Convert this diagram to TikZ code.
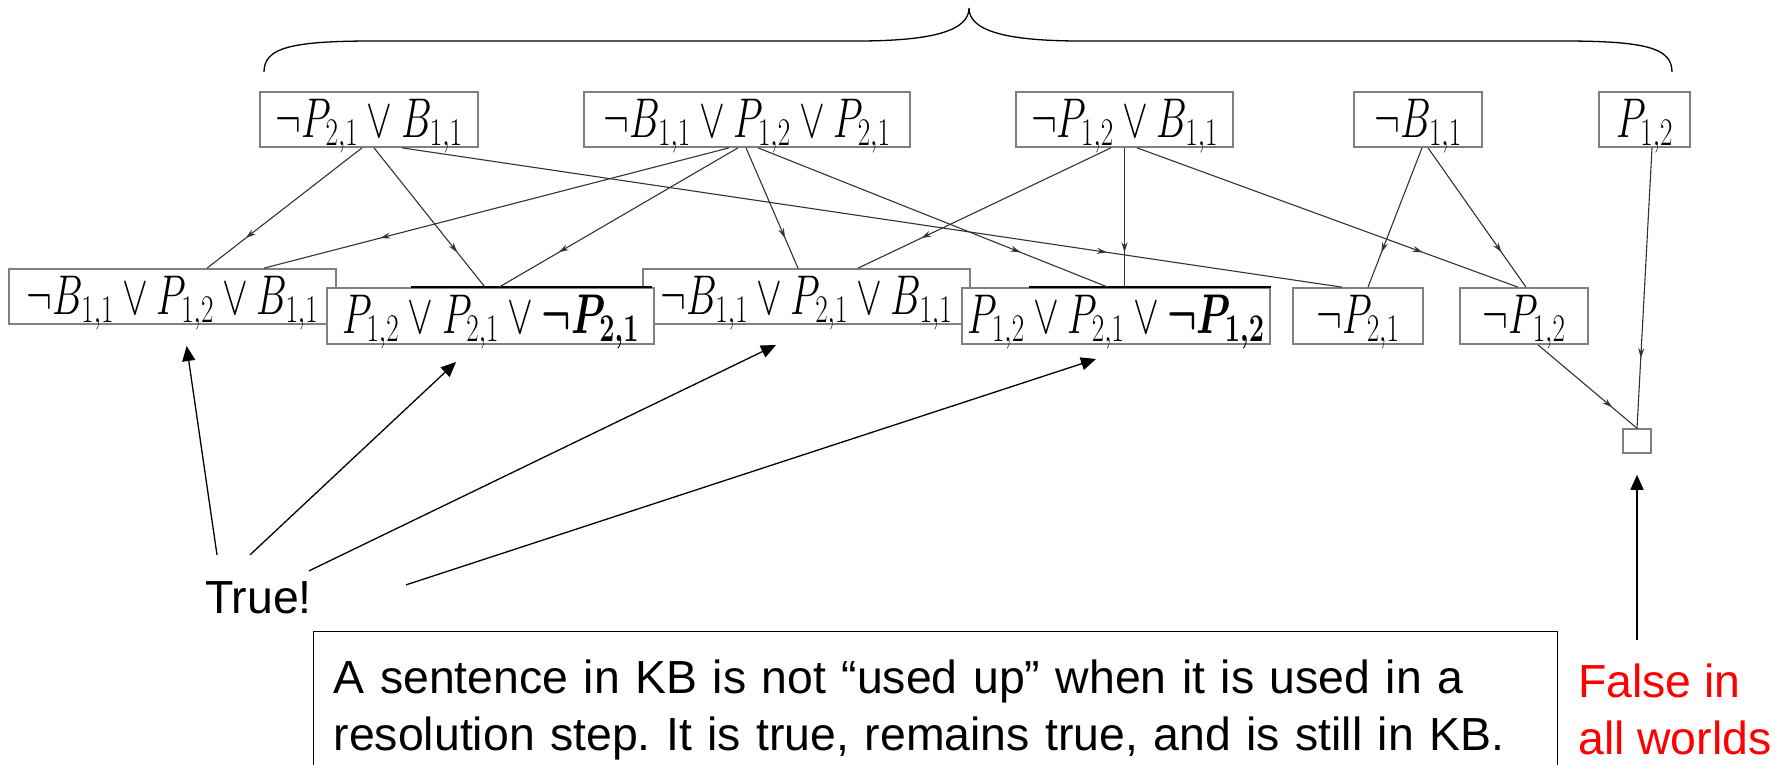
\RequirePackage{fix-cm}
\documentclass[tikz,border=0pt]{standalone}
\usepackage[no-math]{fontspec}
\usepackage{amsmath, graphicx}
\usepackage[dvipsnames]{xcolor}
\usetikzlibrary{positioning, arrows.meta, decorations.markings}
\newfontfamily\arialfont{Liberation Sans}
\newcommand\notefont{\arialfont\frenchspacing\fontsize{46.4pt}{57pt}\selectfont}
\newcommand\clausefont{\fontsize{56pt}{56pt}\selectfont}
\newcommand\clause[1]{\scalebox{0.69}[1]{$#1$}}
\tikzstyle{clausebox} = [draw=gray, line width=1.7pt, fill=white, inner sep=0pt, minimum height=55pt, text height=45pt, text depth=10pt, font=\clausefont]
\tikzstyle{emptybox} = [draw=gray, line width=1.5pt, fill=white, inner sep=0pt, minimum width=28pt, minimum height=24pt]
\tikzstyle{topbar} = [line width=2.4pt, black]
\tikzstyle{callout} = [-{Triangle[length=15pt,width=13pt]}, line width=1.3pt]
\tikzstyle{resarrow} = [
line width=1.1pt,
draw=black!80,
decoration={
	markings,
	mark=at position 0.75 with {\arrow{Stealth[length=10pt,width=6pt]}}
},
postaction={decorate}
]

\begin{document}
\begin{tikzpicture}[x=1pt, y=-1pt]
		\useasboundingbox (0,0) rectangle (1785,764);
		\clip (0,0) rectangle (1785,764);
		
		% brace over the KB
		\draw[line width=1.3pt] (264,72) .. controls (264,48) and (290,41) .. (373,41) -- (857,41)
			.. controls (935,41) and (969,30) .. (969,8)
			.. controls (969,30) and (1003,41) .. (1081,41) -- (1563,41)
			.. controls (1646,41) and (1672,48) .. (1672,72);
		
		% KB clauses
		\node[clausebox, minimum width=218pt] (b1) at (369,119.5) {\clause{\neg P_{2,1}\vee B_{1,1}}};
		\node[clausebox, minimum width=326pt] (b2) at (747,119.5) {\clause{\neg B_{1,1}\vee P_{1,2}\vee P_{2,1}}};
		\node[clausebox, minimum width=217pt] (b3) at (1124.5,119.5) {\clause{\neg P_{1,2}\vee B_{1,1}}};
		\node[clausebox, minimum width=128pt] (b4) at (1418,119.5) {\clause{\neg B_{1,1}}};
		\node[clausebox, minimum width=91pt] (b5) at (1644.5,119.5) {\clause{P_{1,2}}};
		
		% resolvents
		\node[clausebox, minimum width=327pt] (b6) at (172.5,296.5) {\clause{\neg B_{1,1}\vee P_{1,2}\vee B_{1,1}}};
		\node[clausebox, minimum width=327pt] (b8) at (806.5,296.5) {\clause{\neg B_{1,1}\vee P_{2,1}\vee B_{1,1}}};
		\node[clausebox, minimum width=327pt, minimum height=56pt] (b7) at (490.5,316) {\clause{P_{1,2}\vee P_{2,1}\vee\boldsymbol{\neg P_{2,1}}}};
		\node[clausebox, minimum width=308pt, minimum height=56pt] (b9) at (1116,316) {\clause{P_{1,2}\vee P_{2,1}\vee\boldsymbol{\neg P_{1,2}}}};
		\node[clausebox, minimum width=130pt, minimum height=56pt] (b10) at (1358,316) {\clause{\neg P_{2,1}}};
		\node[clausebox, minimum width=128pt, minimum height=56pt] (b11) at (1524,316) {\clause{\neg P_{1,2}}};
		\draw[topbar] ([xshift=85pt]b7.north west) -- ([xshift=-3pt]b7.north east);
		\draw[topbar] ([xshift=68pt]b9.north west) -- (b9.north east);
		
		% empty clause
		\node[emptybox] (empty) at (1637,441) {};
		
		% connections
		\draw[resarrow] ([xshift=-7pt]b1.south) -- ([xshift=34.5pt]b6.north);
		\draw[resarrow] ([xshift=5pt]b1.south) -- ([xshift=-5.5pt]b7.north);
		\draw[resarrow] ([xshift=33pt]b1.south) -- ([xshift=-16pt]b10.north);
		\draw[resarrow] ([xshift=-18pt]b2.south) -- ([xshift=91.5pt]b6.north);
		\draw[resarrow] ([xshift=-9pt]b2.south) -- ([xshift=8.5pt]b7.north);
		\draw[resarrow] ([xshift=-1pt]b2.south) -- ([xshift=-8.5pt]b8.north);
		\draw[resarrow] ([xshift=11pt]b2.south) -- ([xshift=-8pt]b9.north);
		\draw[resarrow] ([xshift=-13.5pt]b3.south) -- ([xshift=51.5pt]b8.north);
		\draw[resarrow] (b3.south) -- (b3.south |- b9.north);
		\draw[resarrow] ([xshift=12.5pt]b3.south) -- ([xshift=-6pt]b11.north);
		\draw[resarrow] ([xshift=4pt]b4.south) -- ([xshift=10pt]b10.north);
		\draw[resarrow] ([xshift=10pt]b4.south) -- ([xshift=2pt]b11.north);
		\draw[resarrow] ([xshift=7.5pt]b5.south) -- (empty.north);
		\draw[resarrow] ([xshift=14pt]b11.south) -- (empty.north);
		
		% notes
		\node[font=\notefont, inner sep=0pt, anchor=base west] (true) at (205,613) {True!};
		\node[font=\notefont, text=red, align=left, inner sep=0pt, anchor=north west] (false) at (1578,664) {False in\\all worlds};
		\node[font=\notefont, draw, line width=1.4pt, align=left, text width=1204pt, inner xsep=20pt, inner ysep=28pt, anchor=north west] (note) at (313,631)
			{A sentence in KB is not “used up” when it is used in a\\resolution step. It is true, remains true, and is still in KB.};
		
		% pointers
		\coordinate (tipA) at (186.6,346);
		\coordinate (tipB) at (456,362);
		\coordinate (tipC) at (776,345);
		\coordinate (tipD) at (1096,359);
		\draw[callout] (true.north west) ++(12,-26) -- (tipA);
		\draw[callout] (true.north west) ++(45,-26) -- (tipB);
		\draw[callout] (true.north east) ++(-3,-10) -- (tipC);
		\draw[callout] (true.north east) ++(94,4) -- (tipD);
		\draw[callout, shorten <=24pt, shorten >=21pt] (false.north -| empty.south) -- (empty.south);
		
	\end{tikzpicture}
\end{document}
